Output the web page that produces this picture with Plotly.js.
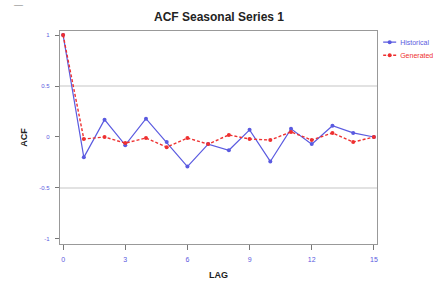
<!DOCTYPE html>
<html><head><meta charset="utf-8">
<script src="https://cdn.plot.ly/plotly-3.0.1.min.js"></script>
<style>html,body{margin:0;padding:0;background:#fff}#c{width:438px;height:285px}</style>
</head><body><div id="c"></div>
<script>
const lags = [0,1,2,3,4,5,6,7,8,9,10,11,12,13,14,15];
const historical = [1,-0.2,0.17,-0.08,0.18,-0.05,-0.29,-0.07,-0.13,0.07,-0.24,0.08,-0.07,0.11,0.04,0.0];
const generated = [1,-0.02,0.0,-0.06,-0.01,-0.1,-0.01,-0.07,0.02,-0.02,-0.03,0.05,-0.03,0.04,-0.05,0.0];
const xTicks = [0,3,6,9,12,15];
const yTicks = [-1,-0.5,0,0.5,1];
const yTickText = ['-1','-0.5','0','0.5','1'];
const gridVals = [-0.5,0.5];

const blue = '#5a5ae0', red = '#ee3030';
const traces = [
  {x: lags, y: historical, name: 'Historical', mode: 'lines+markers',
   line: {color: blue, width: 1.2}, marker: {color: blue, size: 4, symbol: 'circle'}},
  {x: lags, y: generated, name: 'Generated', mode: 'lines+markers',
   line: {color: red, width: 1.4, dash: '3px,2px'}, marker: {color: red, size: 4, symbol: 'circle'}}
];
const layout = {
  width: 438, height: 285,
  margin: {l: 60, r: 61, t: 31, b: 41, autoexpand: false},
  paper_bgcolor: '#fff', plot_bgcolor: '#fff',
  font: {family: 'Liberation Sans, Arial, sans-serif'},
  title: {text: '<b>ACF Seasonal Series 1</b>', x: 0.5, xanchor: 'center', y: 0.94, yanchor: 'middle',
          font: {size: 12, color: '#222'}},
  xaxis: {range: [-0.15, 15.15], tickvals: xTicks, ticktext: xTicks.map(String),
          showgrid: false, zeroline: false, showline: true, linecolor: '#999', linewidth: 1.2, mirror: true,
          ticks: 'outside', ticklen: 5, tickcolor: '#777', ticklabelstandoff: 3,
          tickfont: {size: 7, color: blue},
          title: {text: '<b>LAG</b>', font: {size: 9, color: '#222'}, standoff: 10}},
  yaxis: {range: [-1.05, 1.04], tickvals: yTicks, ticktext: yTickText,
          showgrid: false, zeroline: false, showline: true, linecolor: '#999', linewidth: 1.2, mirror: true,
          ticks: 'outside', ticklen: 4, tickcolor: '#777', ticklabelstandoff: 4,
          tickfont: {size: 6, color: blue},
          title: {text: '<b>ACF</b>', font: {size: 9, color: '#222'}, standoff: 10}},
  yaxis2: {overlaying: 'y', range: [-1.05, 1.04], tickvals: gridVals, showticklabels: false,
           showgrid: true, gridcolor: '#e2e2e2', gridwidth: 1.2, zeroline: false, ticks: '', layer: 'below traces'},
  legend: {x: 1.01, xanchor: 'left', y: 0.985, yanchor: 'top', bgcolor: 'rgba(0,0,0,0)',
           font: {size: 7}, itemwidth: 30, tracegroupgap: 0},
  showlegend: true,
  annotations: [{text: '—', xref: 'paper', yref: 'paper', x: -0.13, y: 1.12, showarrow: false,
                 font: {size: 9, color: '#777'}, xanchor: 'center', yanchor: 'middle'}]
};
traces.push({x: [lags[0]], y: [null], yaxis: 'y2', showlegend: false, hoverinfo: 'skip', mode: 'markers'});
Plotly.newPlot('c', traces, layout, {displayModeBar: false, staticPlot: true}).then(() => {
  // compact legend like the reference
  const groups = document.querySelectorAll('.legend .traces');
  groups.forEach((g, i) => {
    g.setAttribute('transform', 'translate(0,' + (8 + i * 13) + ')');
    g.querySelectorAll('.legendlines path').forEach(p => p.setAttribute('d', 'M3,0h13'));
    g.querySelectorAll('.legendpoints path').forEach(p => p.setAttribute('transform', 'translate(9.5,0)'));
    const t = g.querySelector('.legendtext');
    if (t) { t.setAttribute('x', '20'); t.style.fill = i === 0 ? blue : red; }
  });
});
</script></body></html>
